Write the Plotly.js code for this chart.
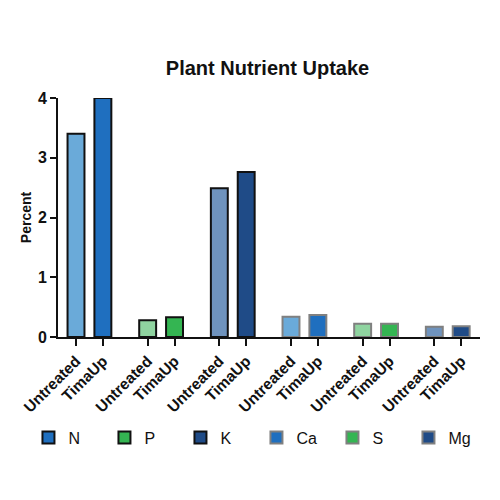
<!DOCTYPE html>
<html>
<head>
<script src="https://cdn.plot.ly/plotly-3.0.1.min.js"></script>
<style>body{margin:0;background:#fff}#graph{width:500px;height:500px}</style>
</head>
<body>
<div id="graph"></div>
<script>
// values (percent)
var nutrients = ['N', 'P', 'K', 'Ca', 'S', 'Mg'];
var treatments = ['Untreated', 'TimaUp'];
var untreated = [3.40, 0.28, 2.49, 0.34, 0.22, 0.17];
var timaUp = [4.00, 0.33, 2.76, 0.37, 0.22, 0.18];

var lightColors = ['#6aaad9', '#8fd4a0', '#6f93bd', '#6aaad9', '#8fd4a0', '#6f93bd'];
var darkColors = ['#1f6fbf', '#34b552', '#1f4b87', '#1f6fbf', '#34b552', '#1f4b87'];
var outlineColors = ['#111', '#111', '#111', '#808080', '#808080', '#808080'];

// group pitch in units of the within-group spacing
var groupPitch = 2.667;

var data = [];
var tickVals = [];
var tickText = [];
for (var g = 0; g < nutrients.length; g++) {
    var base = g * groupPitch;
    tickVals.push(base, base + 1);
    tickText.push(treatments[0], treatments[1]);
    data.push({
        type: 'bar',
        x: [base],
        y: [untreated[g]],
        width: 0.63,
        marker: {color: lightColors[g], line: {color: outlineColors[g], width: 2}},
        legendgroup: nutrients[g],
        showlegend: false,
        cliponaxis: false
    });
    data.push({
        type: 'bar',
        x: [base + 1],
        y: [timaUp[g]],
        width: 0.63,
        name: nutrients[g],
        marker: {color: darkColors[g], line: {color: outlineColors[g], width: 2}},
        legendgroup: nutrients[g],
        cliponaxis: false
    });
}

var layout = {
    width: 500,
    height: 500,
    margin: {l: 58, r: 20, t: 98, b: 163},
    paper_bgcolor: '#fff',
    plot_bgcolor: '#fff',
    barmode: 'overlay',
    font: {family: 'Liberation Sans, Arial, sans-serif', color: '#111'},
    title: {
        text: '<b>Plant Nutrient Uptake</b>',
        font: {size: 20, color: '#111'},
        x: 0.535,
        xanchor: 'center',
        y: 0.865,
        yanchor: 'middle'
    },
    xaxis: {
        range: [-0.67, 5 * groupPitch + 1.7],
        tickvals: tickVals,
        ticktext: tickText.map(function(t) { return '<b>' + t + '</b>'; }),
        tickangle: -45,
        tickfont: {size: 15.5, color: '#111'},
        ticks: 'outside',
        ticklen: 7,
        tickwidth: 2,
        tickcolor: '#111',
        showline: true,
        linecolor: '#111',
        linewidth: 2,
        showgrid: false,
        zeroline: false,
        fixedrange: true
    },
    yaxis: {
        range: [0, 4],
        tickvals: [0, 1, 2, 3, 4],
        ticktext: ['<b>0</b>', '<b>1</b>', '<b>2</b>', '<b>3</b>', '<b>4</b>'],
        tickfont: {size: 16, color: '#111'},
        ticks: 'outside',
        ticklen: 6,
        tickwidth: 2,
        tickcolor: '#111',
        showline: true,
        linecolor: '#111',
        linewidth: 2,
        showgrid: false,
        zeroline: false,
        title: {text: '<b>Percent</b>', font: {size: 14, color: '#111'}, standoff: 3}
    },
    legend: {
        orientation: 'h',
        x: -0.07,
        xanchor: 'left',
        y: -0.35,
        yanchor: 'top',
        entrywidth: 31,
        font: {size: 16, color: '#111'},
        traceorder: 'normal'
    }
};

Plotly.newPlot('graph', data, layout, {staticPlot: true});
</script>
</body>
</html>
